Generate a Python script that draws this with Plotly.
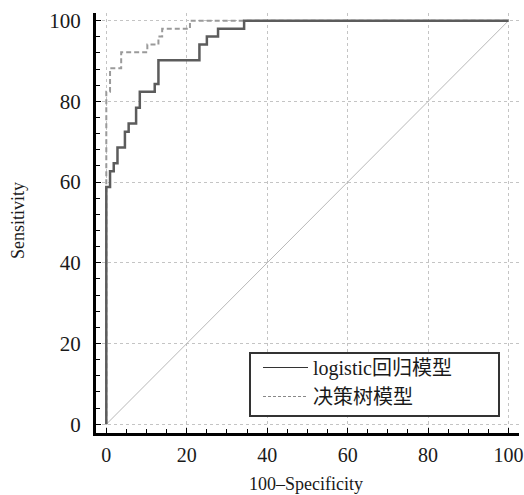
import plotly.graph_objects as go

# ROC step curves (x = 100-Specificity, y = Sensitivity)
logit_x = [0, 0, 0.93, 1.85, 2.78, 4.63, 5.56, 7.41, 8.33, 12.04, 12.96, 23.15, 25.0, 27.78, 34.26, 100]
logit_y = [0, 58.8, 62.7, 64.7, 68.6, 72.5, 74.5, 78.4, 82.4, 84.3, 90.2, 94.1, 96.1, 98.0, 100, 100]

tree_x = [0, 0, 0.93, 3.7, 10.2, 12.96, 13.89, 20.8, 100]
tree_y = [0, 82.4, 88.2, 92.2, 94.1, 96.1, 98.0, 100, 100]

ref_x = [0, 100]
ref_y = [0, 100]

series_names = ["logistic回归模型", "决策树模型"]
tick_vals = [0, 20, 40, 60, 80, 100]
tick_text = ["0", "20", "40", "60", "80", "100"]

FONT = "Liberation Serif, Times New Roman, Noto Sans CJK SC, serif"

W, H = 524, 495
L, R, T, B = 96, 5, 13, 62
PW, PH = W - L - R, H - T - B


def px2paper(px, py):
    return (px - L) / PW, (H - B - py) / PH


SOLID_C = "#5c5c5c"
DASH_C = "#9a9a9a"

fig = go.Figure()
fig.add_trace(go.Scatter(x=ref_x, y=ref_y, mode="lines",
                         line=dict(color="#b8b8b8", width=1), showlegend=False, hoverinfo="skip"))
fig.add_trace(go.Scatter(x=tree_x, y=tree_y, mode="lines", name=series_names[1], showlegend=False,
                         line=dict(color=DASH_C, width=2, dash="5px,3px", shape="hv")))
fig.add_trace(go.Scatter(x=logit_x, y=logit_y, mode="lines", name=series_names[0], showlegend=False,
                         line=dict(color=SOLID_C, width=2.5, shape="hv")))
# legend entries (thin sample lines as in the reference)
fig.add_trace(go.Scatter(x=[None], y=[None], mode="lines", name=series_names[0],
                         line=dict(color="#333333", width=1)))
fig.add_trace(go.Scatter(x=[None], y=[None], mode="lines", name=series_names[1],
                         line=dict(color="#888888", width=1, dash="3px,2px")))

axis_common = dict(
    showline=True, linecolor="black", linewidth=3, mirror=False,
    showgrid=True, gridcolor="#c4c4c4", gridwidth=1, griddash="dot",
    zeroline=False, ticks="inside", ticklen=5, tickwidth=1, tickcolor="black",
    tickvals=tick_vals, ticktext=tick_text, automargin=False,
)

fig.update_xaxes(range=[-2.56, 102.6], minor=dict(ticks="inside", ticklen=4, dtick=5, tick0=0, tickcolor="black", showgrid=False),
                 ticklabelstandoff=2, tickfont=dict(family=FONT, size=20, color="#1a1a1a"), **axis_common)
fig.update_yaxes(range=[-2.16, 101.9], minor=dict(ticks="inside", ticklen=4, dtick=4, tick0=0, tickcolor="black", showgrid=False),
                 ticklabelstandoff=8, tickfont=dict(family=FONT, size=21, color="#1a1a1a"), **axis_common)

bx0, by0 = px2paper(250, 416)
bx1, by1 = px2paper(499, 353)
lx, ly = px2paper(258, 348)

fig.update_layout(
    width=W, height=H,
    margin=dict(l=L, r=R, t=T, b=B, autoexpand=False),
    paper_bgcolor="white", plot_bgcolor="white",
    font=dict(family=FONT, color="#1a1a1a"),
    legend=dict(
        x=lx, y=ly, xanchor="left", yanchor="top",
        borderwidth=0, bgcolor="rgba(0,0,0,0)",
        font=dict(family=FONT, size=20, color="#1a1a1a"),
        traceorder="normal", tracegroupgap=0, itemwidth=45,
    ),
    shapes=[
        dict(type="rect", xref="paper", yref="paper", x0=bx0, y0=by0, x1=bx1, y1=by1,
             line=dict(color="#333333", width=2), fillcolor="white", layer="above"),
    ],
    annotations=[
        dict(text="Sensitivity", x=px2paper(18, 0)[0], y=px2paper(0, 221)[1], xref="paper", yref="paper",
             xanchor="center", yanchor="middle",
             textangle=-90, showarrow=False, font=dict(family=FONT, size=18, color="#1a1a1a")),
        dict(text="100–Specificity", x=px2paper(306, 0)[0], y=px2paper(0, 484)[1], xref="paper", yref="paper",
             xanchor="center", yanchor="middle",
             showarrow=False, font=dict(family=FONT, size=18, color="#1a1a1a")),
    ],
)

fig.write_html("out.html", config={"displayModeBar": False},
               post_script="document.body.style.margin='0';document.body.style.overflow='hidden';")
